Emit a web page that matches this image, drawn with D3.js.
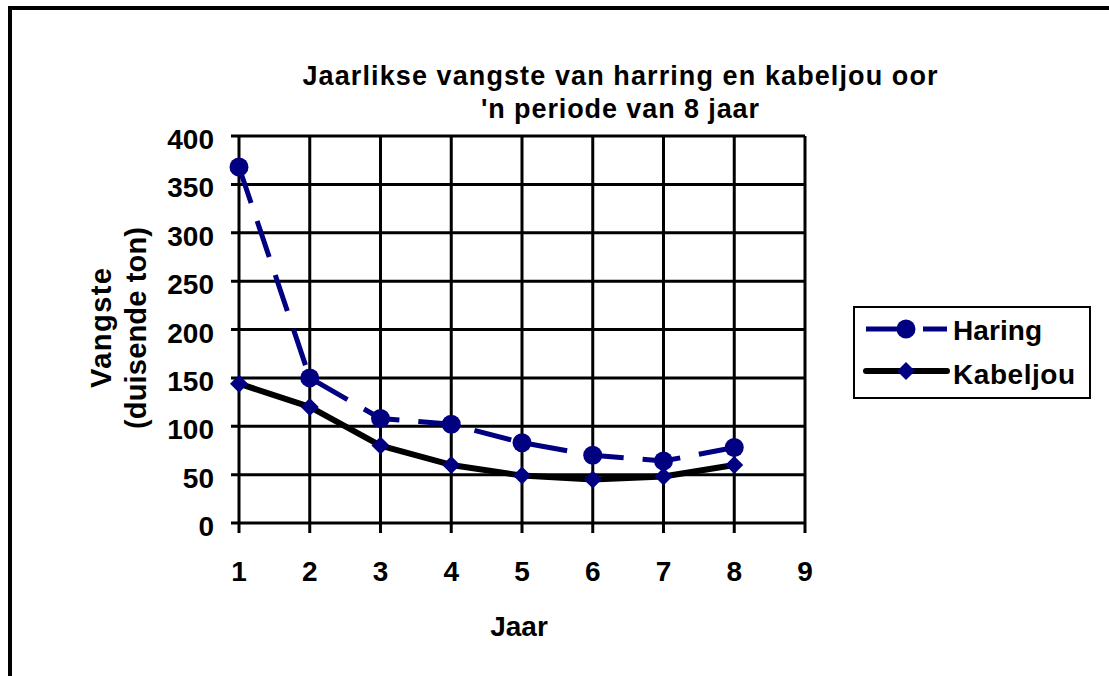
<!DOCTYPE html>
<html><head><meta charset="utf-8">
<script src="https://cdn.jsdelivr.net/npm/d3@7"></script>
<style>
html,body{margin:0;padding:0;background:#fff;}
svg{display:block;}
text{font-family:"Liberation Sans",Arial,sans-serif;font-weight:bold;fill:#000;}
</style></head>
<body>
<script>
const years = [1,2,3,4,5,6,7,8];
const haring = [368,150,108,102,83,70,64,78];
const kabeljou = [144,120,80,60,49,45,48,60];
const xTicks = [1,2,3,4,5,6,7,8,9];
const yTicks = [0,50,100,150,200,250,300,350,400];
const titleLines = ["Jaarlikse vangste van harring en kabeljou oor","'n periode van 8 jaar"];
const yTitleLines = ["Vangste","(duisende ton)"];
const xTitle = "Jaar";
const seriesNames = ["Haring","Kabeljou"];

const W=1109,H=676;
const svg=d3.select("body").append("svg").attr("width",W).attr("height",H);
svg.append("rect").attr("width",W).attr("height",H).attr("fill","#fff");
svg.append("rect").attr("x",10).attr("y",8).attr("width",1300).attr("height",900)
  .attr("fill","none").attr("stroke","#000").attr("stroke-width",4);

const x=d3.scaleLinear().domain([1,9]).range([239,805]);
const y=d3.scaleLinear().domain([0,400]).range([523,136]);

const g=svg.append("g");
g.selectAll("line.h").data(yTicks).join("line").attr("class","h")
  .attr("x1",x(1)-8).attr("x2",x(9)).attr("y1",d=>y(d)).attr("y2",d=>y(d))
  .attr("stroke","#000").attr("stroke-width",3);
g.selectAll("line.v").data(xTicks).join("line").attr("class","v")
  .attr("x1",d=>x(d)).attr("x2",d=>x(d)).attr("y1",y(400)).attr("y2",y(0)+10)
  .attr("stroke","#000").attr("stroke-width",3);

g.selectAll("text.yt").data(yTicks).join("text").attr("class","yt")
  .attr("x",214).attr("y",d=>y(d)+13).attr("text-anchor","end")
  .attr("font-size",28).text(d=>d);
g.selectAll("text.xt").data(xTicks).join("text").attr("class","xt")
  .attr("x",d=>x(d)).attr("y",581).attr("text-anchor","middle")
  .attr("font-size",28).text(d=>d);

const tl=[{t:titleLines[0],y:85,len:635},{t:titleLines[1],y:118,len:278}];
svg.selectAll("text.title").data(tl).join("text").attr("class","title")
  .attr("x",620).attr("y",d=>d.y).attr("text-anchor","middle").attr("font-size",27)
  .attr("textLength",d=>d.len).attr("lengthAdjust","spacing").text(d=>d.t);

svg.append("text").attr("x",519).attr("y",636).attr("text-anchor","middle")
  .attr("font-size",28).text(xTitle);

const yt=[{t:yTitleLines[0],x:111,len:120},{t:yTitleLines[1],x:146,len:202}];
svg.selectAll("text.ytitle").data(yt).join("text").attr("class","ytitle")
  .attr("transform",d=>`translate(${d.x},328) rotate(-90)`)
  .attr("text-anchor","middle").attr("font-size",29)
  .attr("textLength",d=>d.len).attr("lengthAdjust","spacing").text(d=>d.t);

const line=d3.line().x((d,i)=>x(years[i])).y(d=>y(d));
svg.append("path").attr("d",line(kabeljou)).attr("fill","none")
  .attr("stroke","#000").attr("stroke-width",6).attr("stroke-linejoin","round");
svg.append("path").attr("d",line(haring)).attr("fill","none")
  .attr("stroke","#000080").attr("stroke-width",5).attr("stroke-dasharray","38,19");

svg.selectAll("path.dk").data(kabeljou).join("path").attr("class","dk")
  .attr("d","M0,-9L9,0L0,9L-9,0Z")
  .attr("transform",(d,i)=>`translate(${x(years[i])},${y(d)})`).attr("fill","#000080");
svg.selectAll("circle.ch").data(haring).join("circle").attr("class","ch")
  .attr("cx",(d,i)=>x(years[i])).attr("cy",d=>y(d)).attr("r",9.5).attr("fill","#000080");

const lg=svg.append("g");
lg.append("rect").attr("x",854).attr("y",307).attr("width",236).attr("height",91)
  .attr("fill","#fff").attr("stroke","#000").attr("stroke-width",2);
lg.append("line").attr("x1",866).attr("x2",947).attr("y1",329).attr("y2",329)
  .attr("stroke","#000080").attr("stroke-width",5).attr("stroke-dasharray","38,19");
lg.append("circle").attr("cx",906).attr("cy",329).attr("r",9.5).attr("fill","#000080");
lg.append("line").attr("x1",866).attr("x2",947).attr("y1",371).attr("y2",371)
  .attr("stroke","#000").attr("stroke-width",6).attr("stroke-linecap","round");
lg.append("path").attr("d","M0,-9L9,0L0,9L-9,0Z").attr("transform","translate(906,371)").attr("fill","#000080");
const lt=[{t:seriesNames[0],y:340,len:89},{t:seriesNames[1],y:384,len:122}];
lg.selectAll("text").data(lt).join("text").attr("x",953).attr("y",d=>d.y)
  .attr("font-size",28).attr("textLength",d=>d.len).attr("lengthAdjust","spacing").text(d=>d.t);
</script>
</body></html>
